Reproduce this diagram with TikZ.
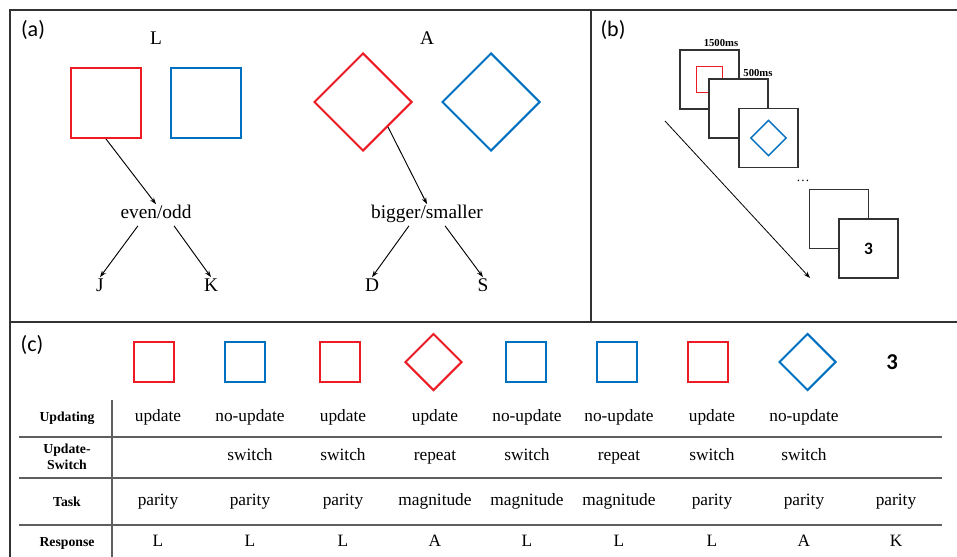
\documentclass[tikz,border=0pt]{standalone}
\usepackage{fontspec}
\setmainfont{Liberation Serif}
\newfontfamily\labfont{Carlito}
\usepackage{tikz}
\usetikzlibrary{arrows.meta}
\usetikzlibrary{shapes.geometric}
\definecolor{shapered}{RGB}{237,28,36}
\definecolor{shapeblue}{RGB}{0,112,192}
\definecolor{framegray}{RGB}{50,50,50}
\definecolor{rulegray}{RGB}{95,95,95}
\tikzset{sq/.style={rectangle, line width=1.5pt, minimum size=#1, inner sep=0pt},
         dia/.style={diamond, line width=1.5pt, minimum width=#1, minimum height=#1, inner sep=0pt},
         redsq/.style={sq=#1, draw=shapered},
         bluesq/.style={sq=#1, draw=shapeblue},
         reddia/.style={dia=#1, draw=shapered},
         bluedia/.style={dia=#1, draw=shapeblue},
         screen/.style={draw=framegray, fill=white, line width=1.1pt, minimum size=44.25pt, inner sep=0pt},
         txt/.style={font=\fontsize{14.5}{16}\selectfont, text height=0.7em, text depth=0.22em},
         cell/.style={font=\fontsize{13}{15}\selectfont, text height=0.7em, text depth=0.22em},
         rowhead/.style={font=\fontsize{10.3}{12}\selectfont\bfseries, align=center},
         panel/.style={font=\labfont\fontsize{16.5}{18}\selectfont},
         mslabel/.style={font=\fontsize{8}{9}\selectfont\bfseries, inner sep=1pt},
         arr/.style={-{Stealth[length=5pt,width=3.5pt]}, line width=0.7pt}}

\begin{document}
\begin{tikzpicture}[x=0.75pt,y=-0.75pt]
  \useasboundingbox (0,0) rectangle (957,557);
  % frame
  \draw[framegray, line width=1.5pt] (957,10) -- (9.5,10) -- (9.5,557);
  \draw[framegray, line width=1.5pt] (9.5,322) -- (957,322);
  \draw[framegray, line width=1.5pt] (591,10) -- (591,322);

  % (a)
  \node[panel] (pa) at (33,30) {(a)};
  \node[txt] (L) at (156,41) {L};
  \node[txt] (A) at (427,41) {A};
  \node[redsq=52.5pt] (sqR) at (106,103) {};
  \node[bluesq=52.5pt] (sqB) at (205.5,103) {};
  \node[reddia=73.5pt] (diaR) at (363,102) {};
  \node[bluedia=73.5pt] (diaB) at (491,102) {};
  \node[txt] (parity) at (156,215) {even/odd};
  \node[txt] (magn) at (427,215) {bigger/smaller};
  \node[txt] (J) at (100,288) {J};
  \node[txt] (K) at (211,288) {K};
  \node[txt] (D) at (372,288) {D};
  \node[txt] (S) at (483,288) {S};
  \path[arr]
    (sqR.south) edge (parity.north)
    (parity.-149) edge (J.north)
    (parity.-31) edge (K.north)
    (diaR.south east) edge (magn.north)
    (magn.-149) edge (D.north)
    (magn.-31) edge (S.north);

  % (b)
  \node[panel] (pb) at (613,30) {(b)};
  \node[screen] (s1) at (709.5,79.5) {};
  \node[redsq=19.5pt, line width=1.1pt] (s1sq) at (709.5,79.5) {};
  \node[screen] (s2) at (738.5,108.5) {};
  \node[screen] (s3) at (768.5,138) {};
  \node[bluedia=27pt, line width=1.1pt] (s3dia) at (768.5,138) {};
  \node[screen] (s4) at (839,219) {};
  \node[screen, font=\labfont\bfseries\fontsize{13}{14}\selectfont] (s5) at (868.5,248.5) {3};
  \node[mslabel] (t1) at (721,43) {1500ms};
  \node[mslabel] (t2) at (758,73) {500ms};
  \node[font=\fontsize{10}{11}\selectfont] (dots) at (803,181) {…};
  \coordinate (tstart) at (665,121);
  \coordinate (tend) at (810,278);
  \draw[arr, line width=0.6pt] (tstart) -- (tend);

  % (c)
  \node[panel] (pc) at (32,345) {(c)};
  \node[redsq=30pt] (c1) at (154,362) {};
  \node[bluesq=30pt] (c2) at (245,362) {};
  \node[redsq=30pt] (c3) at (340,362) {};
  \node[reddia=42.75pt] (c4) at (433.5,362) {};
  \node[bluesq=30pt] (c5) at (526,362) {};
  \node[bluesq=30pt] (c6) at (617,362) {};
  \node[redsq=30pt] (c7) at (708,362) {};
  \node[bluedia=42.75pt] (c8) at (807.5,362) {};
  \node[font=\labfont\bfseries\fontsize{17}{18}\selectfont] (c9) at (892,362) {3};

  \node[rowhead] (hUpd) at (67,418) {Updating};
  \node[rowhead] (hSw) at (67,457) {Update-\\Switch};
  \node[rowhead] (hTask) at (67,502) {Task};
  \node[rowhead] (hResp) at (67,543) {Response};

  \foreach \cx/\ct [count=\i] in {158/update, 250/no-update, 343/update, 435/update,
      527/no-update, 619/no-update, 712/update, 804/no-update}
    \node[cell] (upd\i) at (\cx,418) {\ct};
  \foreach \cx/\ct [count=\i] in {250/switch, 343/switch, 435/repeat, 527/switch,
      619/repeat, 712/switch, 804/switch}
    \node[cell] (sw\i) at (\cx,457) {\ct};
  \foreach \cx/\ct [count=\i] in {158/parity, 250/parity, 343/parity, 435/magnitude,
      527/magnitude, 619/magnitude, 712/parity, 804/parity, 896/parity}
    \node[cell] (task\i) at (\cx,502) {\ct};
  \foreach \cx/\ct [count=\i] in {158/L, 250/L, 343/L, 435/A, 527/L, 619/L, 712/L, 804/A, 896/K}
    \node[cell] (resp\i) at (\cx,543) {\ct};

  \draw[rulegray, line width=1.1pt] (19,437) -- (942,437);
  \draw[rulegray, line width=1.1pt] (19,478) -- (942,478);
  \draw[rulegray, line width=1.1pt] (19,525) -- (942,525);
  \draw[rulegray, line width=1.1pt] (112,400) -- (112,557);
\end{tikzpicture}
\end{document}
